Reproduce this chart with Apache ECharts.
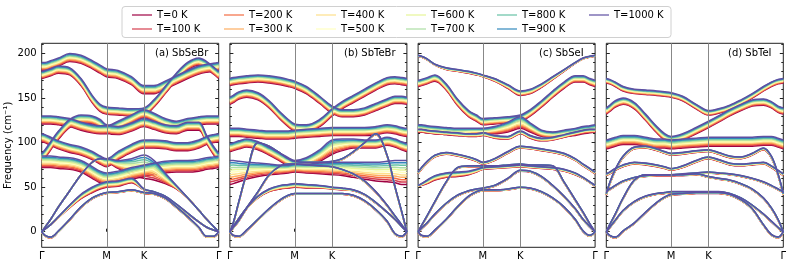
<!DOCTYPE html>
<html><head><meta charset="utf-8">
<script src="https://cdn.jsdelivr.net/npm/echarts@6/dist/echarts.min.js"></script>
<style>html,body{margin:0;padding:0;background:#fff}#c{width:793px;height:267px}</style>
</head><body><div id="c"></div>
<script>
// ---------- data ----------
const temps = [0,100,200,300,400,500,600,700,800,900,1000];
const tempLabels = ['T=0 K','T=100 K','T=200 K','T=300 K','T=400 K','T=500 K','T=600 K','T=700 K','T=800 K','T=900 K','T=1000 K'];
const lineColors = ['#9e0142','#d53e4f','#f46d43','#fdae61','#fee08b','#ffffbf','#e6f598','#abdda4','#66c2a5','#3288bd','#5e4fa2'];
const kTickPos = [0, 0.577, 0.911, 1.577];
const kTickLabels = ['Γ','M','K','Γ'];
const kpos = [0,0.03,0.08,0.15,0.25,0.35,0.45,0.52,0.577,0.68,0.8,0.911,1.0,1.1,1.2,1.3,1.4,1.47,1.53,1.577];
const yMajor = [0,50,100,150,200];
const yMinor = [-10,10,20,30,40,60,70,80,90,110,120,130,140,160,170,180,190,210];
const panelTitles = ['(a) SbSeBr','(b) SbTeBr','(c) SbSeI','(d) SbTeI'];

// band frequencies at T=1000 K (cm^-1) along kpos, and drop to T=0 K
const sbsebrHot = [
 [0,-4,-6,1,14,28,38,42,44,45,47,44,43,38,28,17,5,-5,-5,0],
 [0,3,8,17,30,42,50,54,56,57,60,48,45,40,31,21,11,5,2,0],
 [0,5,14,28,46,64,78,82,82,80,82,86,80,66,52,38,24,14,6,0],
 [85,85,85,84,83,80,73,68,66,68,72,75,77,79,80,80,81,83,84,85],
 [110,109,106,102,98,95,90,85,82,90,98,103,103,102,100,100,103,107,109,110],
 [88,92,101,113,126,131,130,126,120,118,122,127,124,120,119,123,123,108,96,88],
 [130,130,130,129,127,123,120,119,119,124,131,137,133,127,124,127,129,130,130,130],
 [180,181,183,186,184,172,153,143,140,139,138,139,148,163,178,190,195,191,185,180],
 [190,190,192,195,200,198,192,187,183,181,174,164,164,169,175,181,186,188,189,190]
];
const sbsebrShift = [
 1,
 [0,0,0,1,3,5,6,6,6,6,5,1,1,1,1,1,0,0,0,0],
 [0,0,0,0,0,0,0,1,3,9,18,26,22,12,4,0,0,0,0,0],
 13, 9, 9, 9, 8, 9
];
const sbtebrHot = [
 [0,-4,-5,2,14,26,36,41,43,43,43,43,43,41,35,25,12,-2,-5,0],
 [0,6,15,27,40,48,52,53,54,53,52,50,49,47,42,33,22,14,6,0],
 [0,5,13,27,45,64,74,76,76,75,74,73,70,65,57,45,30,18,8,0],
 [0,10,34,66,100,96,88,82,79,78,78,79,82,90,100,110,86,51,23,0],
 [80,80,79,78,77,76,75,75,76,76,77,78,78,78,78,78,79,80,80,80],
 [99,100,102,104,101,95,88,83,80,83,92,103,104,104,103,103,106,104,101,99],
 [116,116,116,115,114,113,113,113,114,115,116,117,117,117,117,118,120,119,117,116],
 [151,153,157,159,156,147,134,126,121,120,126,138,146,153,160,167,173,174,173,172],
 [172,173,174,175,176,175,173,171,169,163,152,141,137,137,139,144,149,152,152,151]
];
const sbtebrShift = [
 1,
 [0,0,0,1,2,3,4,4,4,4,3,2,2,1,1,1,0,0,0,0],
 1, 1,
 [27,26,23,19,15,12,10,9,9,10,12,14,15,17,19,21,23,25,27,27],
 [9,9,9,9,9,9,9,9,9,10,13,16,13,10,9,9,9,9,9,9],
 9, 8, 8
];
const sbseiHot = [
 [0,-4,-5,2,14,28,40,45,47,47,48,50,49,45,38,28,14,1,-4,0],
 [0,4,10,20,32,41,46,48,49,52,60,69,68,62,52,40,26,14,6,0],
 [0,7,18,34,56,72,74,74,74,74,75,76,75,75,74,56,36,22,9,0],
 [52,54,58,63,66,67,68,70,72,73,74,75,74,73,72,70,66,61,56,52],
 [67,72,79,86,89,87,84,81,78,82,90,96,95,93,91,88,82,76,71,67],
 [115,115,114,113,112,111,110,110,111,108,107,113,108,105,106,109,112,114,115,115],
 [120,120,119,118,117,116,116,116,116,118,123,129,122,114,112,114,116,118,119,120],
 [170,171,173,176,166,149,136,131,127,128,129,131,137,147,158,168,175,175,172,170],
 [198,197,194,188,184,182,180,178,176,172,165,158,160,166,174,182,190,195,197,198]
];
const sbseiShift = [
 1, 1, 1,
 [1,2,4,5,5,5,4,3,2,2,2,2,2,2,2,2,2,1,1,1],
 2, 3,
 [8,8,8,8,8,8,7,6,6,8,11,13,10,7,6,7,8,8,8,8],
 7,
 [1,1,1,1,2,2,2,2,2,3,4,5,5,4,3,2,1,1,1,1]
];
const sbteiHot = [
 [0,-4,-6,1,10,22,33,39,42,43,44,44,44,42,36,26,8,-3,-6,0],
 [0,5,13,24,34,40,43,44,45,45,45,45,45,43,38,30,20,12,5,0],
 [0,8,20,38,58,64,64,64,64,64,65,62,60,58,54,48,38,27,14,0],
 [45,48,52,57,61,63,64,64,64,65,66,67,66,65,63,60,56,52,48,45],
 [65,67,71,75,78,77,75,73,71,74,80,84,81,77,76,77,78,74,69,65],
 [43,55,70,85,95,96,93,90,88,89,91,92,89,85,84,88,94,85,65,43],
 [103,104,106,108,108,106,104,104,103,104,105,106,106,106,106,106,107,107,105,103],
 [139,142,147,150,145,132,118,110,107,110,117,124,130,137,143,148,149,146,141,139],
 [172,171,168,163,160,159,158,157,156,152,143,136,138,142,148,155,163,168,171,172]
];
const sbteiShift = [1, 1, 1, 1, 2, 2, 10, 7, 5];

// ---------- layout ----------
const gridLefts = [41.7, 229.9, 418.1, 606.3];
const gridTop = 43.3, gridW = 177, gridH = 204;
const yMin = -17.5, yMax = 211.5;
const titleLefts = [155, 344, 539, 728];
const legendLefts = [132, 224, 316, 406, 497, 589];
const FONT = 'DejaVu Sans';

const panels = [
  {hot: sbsebrHot, shift: sbsebrShift},
  {hot: sbtebrHot, shift: sbtebrShift},
  {hot: sbseiHot, shift: sbseiShift},
  {hot: sbteiHot, shift: sbteiShift}
];

function lighten(hex, a) {
  const n = parseInt(hex.slice(1), 16);
  const r = (n >> 16) & 255, g = (n >> 8) & 255, b = n & 255;
  const f = c => Math.round(c * a + 255 * (1 - a));
  return 'rgb(' + f(r) + ',' + f(g) + ',' + f(b) + ')';
}

const grid = [], xAxis = [], yAxis = [], series = [], title = [];
panels.forEach((P, p) => {
  grid.push({left: gridLefts[p], top: gridTop, width: gridW, height: gridH, show: true,
    borderColor: '#222', borderWidth: 1, backgroundColor: 'transparent', containLabel: false});
  xAxis.push({type: 'value', gridIndex: p, min: 0, max: kTickPos[3],
    axisLine: {show: false}, splitLine: {show: false},
    axisTick: {show: true, inside: true, length: 3, customValues: [kTickPos[1], kTickPos[2]], lineStyle: {color: '#222'}},
    axisLabel: {show: true, customValues: kTickPos, margin: 4, fontSize: 10, fontFamily: FONT, color: '#000',
      formatter: v => { let best = 0; kTickPos.forEach((t, i) => { if (Math.abs(t - v) < Math.abs(kTickPos[best] - v)) best = i; }); return kTickLabels[best]; }}
  });
  const mk = (pos, vals, len, label, extra) => Object.assign({type: 'value', gridIndex: p, position: pos, min: yMin, max: yMax,
    axisLine: {show: false}, splitLine: {show: false},
    axisTick: {show: true, inside: true, length: len, customValues: vals, lineStyle: {color: '#222', width: 1}},
    axisLabel: {show: label, customValues: vals, margin: 5, fontSize: 10, fontFamily: FONT, color: '#000'}}, extra || {});
  yAxis.push(mk('left', yMajor, 3.5, p === 0, p === 0 ? {name: 'Frequency (cm⁻¹)', nameLocation: 'middle', nameGap: 22,
    nameTextStyle: {fontSize: 10, fontFamily: FONT, color: '#000'}} : {}));
  yAxis.push(mk('left', yMinor, 2, false));
  yAxis.push(mk('right', yMajor, 3.5, false));
  yAxis.push(mk('right', yMinor, 2, false));
  title.push({text: panelTitles[p], left: titleLefts[p], top: 48, padding: 0,
    textStyle: {fontSize: 10, fontWeight: 'normal', color: '#000', fontFamily: FONT}});

  temps.forEach((T, ti) => {
    P.hot.forEach((band, b) => {
      const sh = P.shift[b];
      const data = kpos.map((k, j) => [k, band[j] - (Array.isArray(sh) ? sh[j] : sh) * (1 - T / 1000)]);
      const s = {type: 'line', name: tempLabels[ti], xAxisIndex: p, yAxisIndex: p * 4, data,
        smooth: 0.35, symbol: 'none', showSymbol: false, silent: true, animation: false,
        lineStyle: {color: lineColors[ti], width: 1.5}, itemStyle: {color: lineColors[ti]}};
      if (ti === 0 && b === 0) {
        s.markLine = {silent: true, symbol: 'none', animation: false, label: {show: false},
          lineStyle: {color: '#888', width: 1, type: 'solid'},
          data: [{xAxis: kTickPos[1]}, {xAxis: kTickPos[2]}]};
      }
      series.push(s);
    });
  });
});

const legend = legendLefts.map((l, c) => ({
  orient: 'vertical', left: l, top: 9, padding: 0, itemGap: 2, itemWidth: 20, itemHeight: 2,
  icon: 'rect', selectedMode: false, z: 10,
  textStyle: {fontSize: 10, fontFamily: FONT, color: '#000', lineHeight: 12},
  data: tempLabels.slice(2 * c, 2 * c + 2).map((n, i) => {
    const col = lighten(lineColors[2 * c + i], 0.6);
    return {name: n, itemStyle: {color: col, borderWidth: 0}, lineStyle: {color: col}};
  })
}));

const chart = echarts.init(document.getElementById('c'), null, {renderer: 'canvas'});
chart.setOption({
  animation: false,
  backgroundColor: '#fff',
  graphic: [{type: 'rect', z: 0, shape: {x: 122, y: 6.5, width: 549, height: 31, r: 3},
    style: {fill: '#fff', stroke: '#d0d0d0', lineWidth: 1}}],
  title, legend, grid, xAxis, yAxis, series
});
</script></body></html>
